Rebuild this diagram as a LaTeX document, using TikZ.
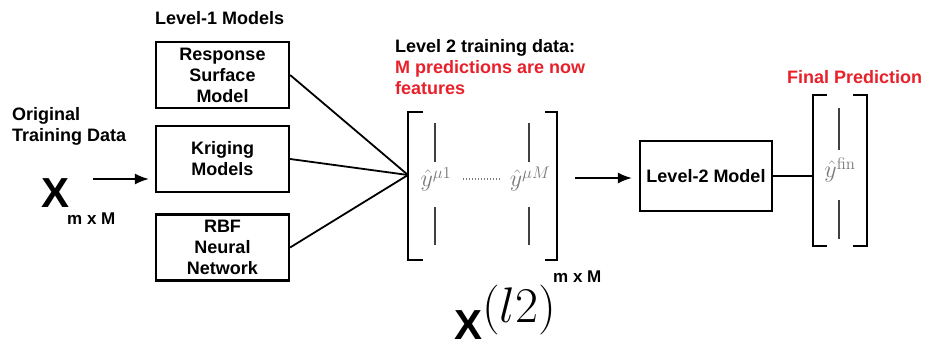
\RequirePackage{fix-cm}
\documentclass[tikz,border=0pt]{standalone}
\usepackage[no-math]{fontspec}
\setmainfont{Liberation Sans}
\usetikzlibrary{arrows.meta}
\definecolor{predred}{HTML}{E8202A}
\definecolor{mgray}{HTML}{7A7A7A}
\begin{document}
\begin{tikzpicture}[x=1pt,y=-1pt,
  lbl/.style={font=\fontsize{18}{21}\selectfont\bfseries, inner sep=0pt, align=left},
  modelbox/.style={draw, line width=2.2pt, minimum width=133pt, minimum height=66pt, inner sep=0pt, align=center, font=\fontsize{18}{21}\selectfont\bfseries},
  conn/.style={line width=1.8pt},
  arr/.style={line width=1.8pt, -{Latex[length=14pt,width=11pt]}},
  brk/.style={line width=2.4pt},
  bar/.style={line width=1.3pt, black!75},
  ent/.style={text=mgray, font=\fontsize{24}{26}\selectfont, inner sep=0pt},
  dimlbl/.style={font=\fontsize{17}{20}\selectfont\bfseries, inner sep=0pt},
  bigx/.style={font=\fontsize{42}{42}\selectfont\bfseries, inner sep=0pt}
]
\useasboundingbox (0,0) rectangle (935,344);

% titles
\node[lbl, anchor=base west] (l1title) at (155,25) {Level-1 Models};
\node[lbl, anchor=north west] (orig) at (12,107) {Original\\Training Data};
\node[lbl, anchor=north west] (l2title) at (395,39.5) {Level 2 training data:\\\textcolor{predred}{M predictions are now}\\\textcolor{predred}{features}};
\node[lbl, anchor=base west, text=predred] (finaltitle) at (787,84) {Final Prediction};

% input X
\node[bigx, anchor=base west] (X) at (41,208) {X};
\node[dimlbl, anchor=base west] (xdim) at (67,225) {m x M};

% level-1 models
\node[modelbox] (rsm) at (222.5,75) {Response\\Surface\\Model};
\node[modelbox] (krig) at (222.5,159) {Kriging\\Models};
\node[modelbox] (rbf) at (222.5,247.5) {RBF\\Neural\\Network};

\coordinate (a1s) at (93,179);
\draw[arr, shorten >=6pt] (a1s) -- (krig.west |- a1s);

% convergence
\coordinate (conv) at (408,175);
\draw[conn] (rsm.east) -- (conv);
\draw[conn] (krig.east) -- (conv);
\draw[conn] (rbf.east) -- (conv);

% level-2 training matrix
\draw[brk] (423,112) -- (408,112) -- (408,260) -- (423,260);
\draw[brk] (545,112) -- (557,112) -- (557,260) -- (545,260);
\draw[bar] (435,123) -- (435,162);
\draw[bar] (435,207) -- (435,245);
\draw[bar] (529,123) -- (529,162);
\draw[bar] (529,207) -- (529,245);
\node[ent, anchor=base] (y1) at (436,187) {$\hat y^{\mu 1}$};
\node[ent, anchor=base] (yM) at (530,187) {$\hat y^{\mu M}$};
\draw[mgray, line width=1.1pt, dash pattern=on 1pt off 2pt] (463,179) -- (500,179);
\node[dimlbl, anchor=base west] (mdim) at (553,283) {m x M};
\node[bigx, anchor=base west] (Xl2) at (454,340) {X\raisebox{17.5pt}{\fontsize{50}{50}\selectfont$(l2)$}};

% level-2 model
\node[modelbox, minimum width=132pt, minimum height=70pt] (l2m) at (706,176) {Level-2 Model};
\coordinate (a2s) at (575,178);
\draw[arr, shorten >=7pt] (a2s) -- (l2m.west |- a2s);

% final prediction
\coordinate (fbl) at (813,176);
\draw[conn] (l2m.east) -- (fbl);
\draw[brk] (827,95) -- (813,95) -- (813,246) -- (827,246);
\draw[brk] (853,95) -- (867,95) -- (867,246) -- (853,246);
\draw[bar] (839,108) -- (839,150);
\draw[bar] (839,200) -- (839,239);
\node[ent, anchor=base] (yfin) at (840,178) {$\hat y^{\mathrm{fin}}$};
\end{tikzpicture}
\end{document}
